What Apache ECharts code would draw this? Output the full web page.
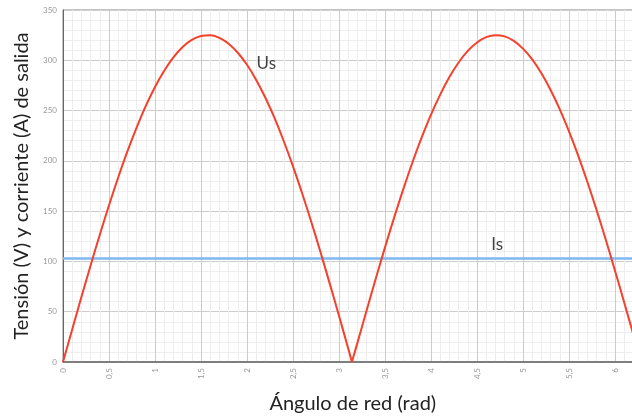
<!DOCTYPE html>
<html>
<head>
<meta charset="utf-8">
<script src="https://cdn.jsdelivr.net/npm/echarts@6/dist/echarts.min.js"></script>
<style>html,body{margin:0;padding:0;background:#fff;}#c{width:632px;height:418px;}</style>
</head>
<body>
<div id="c"></div>
<script>
// Angle (rad) readings and output voltage Us (V)
const angles = [0,0.1,0.2,0.3,0.4,0.5,0.6,0.7,0.8,0.9,1.0,1.1,1.2,1.3,1.4,1.5,1.6,1.7,1.8,1.9,2.0,2.1,2.2,2.3,2.4,2.5,2.6,2.7,2.8,2.9,3.0,3.1,3.14,3.2,3.3,3.4,3.5,3.6,3.7,3.8,3.9,4.0,4.1,4.2,4.3,4.4,4.5,4.6,4.7,4.8,4.9,5.0,5.1,5.2,5.3,5.4,5.5,5.6,5.7,5.8,5.9,6.0,6.1,6.2,6.28];
const usValues = [0,32.4,64.6,96,126.6,155.8,183.5,209.4,233.1,254.6,273.5,289.6,302.9,313.2,320.3,324.2,324.9,322.3,316.5,307.5,295.5,280.5,262.8,242.4,219.5,194.5,167.5,138.9,108.9,77.7,45.9,13.5,0,19,51.3,83,114,143.8,172.2,198.9,223.5,246,265.9,283.3,297.8,309.3,317.7,323,325,323.8,319.3,311.6,300.9,287.1,270.5,251.2,229.3,205.2,179,151,121.5,90.8,59.2,27,0];
// Output current Is (A), constant
const isAngles = [0, 6.3];
const isValues = [103, 103];
// Curve labels
const labelNames = ['Us', 'Is'];
const labelPos = [[2.21, 297], [4.72, 117]];

const xTitle = 'Ángulo de red (rad)';
const yTitle = 'Tensión (V) y corriente (A) de salida';

const usPoints = angles.map((a, i) => [a, usValues[i]]);
const cusp = angles.indexOf(3.14);
const usHalf1 = usPoints.slice(0, cusp + 1);
const usHalf2 = usPoints.slice(cusp);

const chart = echarts.init(document.getElementById('c'), null, {renderer: 'canvas'});
const FONT = 'Lato';
const usStyle = {color: '#f5402c', width: 2};
chart.setOption({
  animation: false,
  backgroundColor: '#fff',
  grid: {left: 63, top: 10, bottom: 56, right: -10.6, outerBoundsMode: 'none', containLabel: false,
    show: true, borderColor: '#888', borderWidth: 1},
  xAxis: {
    type: 'value', min: 0, max: 6.3, interval: 0.5,
    name: xTitle, nameLocation: 'middle', nameGap: 32,
    nameTextStyle: {fontFamily: FONT, fontSize: 20, color: '#222'},
    axisLine: {show: true, lineStyle: {color: '#666', width: 1.5}},
    axisTick: {show: false},
    axisLabel: {rotate: 90, fontSize: 8, color: '#999', fontFamily: FONT, showMaxLabel: false, margin: 6,
      formatter: v => String(v).replace('.', ',')},
    splitLine: {show: true, lineStyle: {color: '#ccc', width: 1}},
    minorTick: {show: false, splitNumber: 5},
    minorSplitLine: {show: true, lineStyle: {color: '#eee', width: 1}}
  },
  yAxis: {
    type: 'value', min: 0, max: 350, interval: 50,
    name: yTitle, nameLocation: 'middle', nameGap: 31, nameRotate: 90,
    nameTextStyle: {fontFamily: FONT, fontSize: 20, color: '#222'},
    axisLine: {show: true, lineStyle: {color: '#666', width: 1}},
    axisTick: {show: false},
    axisLabel: {fontSize: 8, color: '#999', fontFamily: FONT, margin: 6},
    splitLine: {show: true, lineStyle: {color: '#ccc', width: 1}},
    minorTick: {show: false, splitNumber: 5},
    minorSplitLine: {show: true, lineStyle: {color: '#eee', width: 1}}
  },
  series: [
    {
      type: 'line', name: 'Is', data: isAngles.map((a, i) => [a, isValues[i]]),
      showSymbol: false, lineStyle: {color: '#7fb8f0', width: 2.5}, z: 3
    },
    {
      type: 'line', name: 'Us', data: usHalf1,
      showSymbol: false, smooth: 0.4, lineStyle: usStyle, z: 4
    },
    {
      type: 'line', name: 'Us', data: usHalf2,
      showSymbol: false, smooth: 0.4, lineStyle: usStyle, z: 4
    },
    {
      type: 'scatter', data: labelPos.map((p, i) => ({value: p, name: labelNames[i]})),
      symbolSize: 0, silent: true, z: 5,
      label: {show: true, position: 'inside', formatter: p => p.name, fontFamily: FONT, fontSize: 17, color: '#111'}
    }
  ]
});
</script>
</body>
</html>
